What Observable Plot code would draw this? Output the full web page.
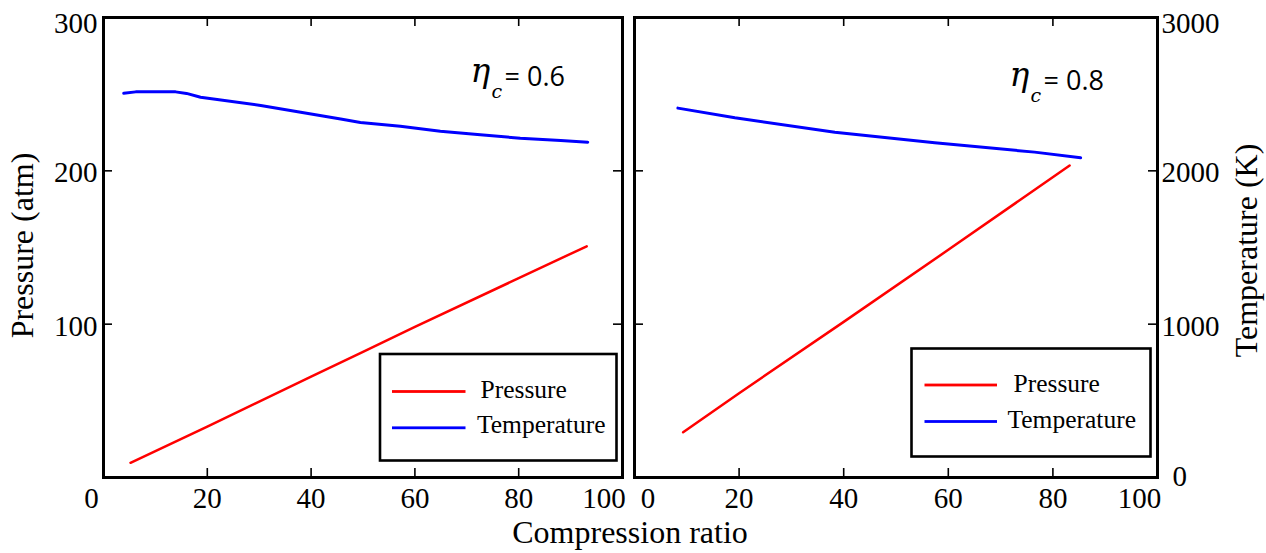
<!DOCTYPE html>
<html>
<head>
<meta charset="utf-8">
<script src="https://cdn.jsdelivr.net/npm/d3@7"></script>
<script src="https://cdn.jsdelivr.net/npm/@observablehq/plot@0.6"></script>
<style>
  html, body { margin: 0; padding: 0; background: #ffffff; }
  #wrap { position: relative; width: 1266px; height: 553px; overflow: hidden; background: #ffffff; }
  #wrap svg { position: absolute; top: 0; }
  #xtitle { position: absolute; left: 0; width: 1260px; top: 516px; text-align: center;
            font-family: "Liberation Serif", "Times New Roman", serif; font-size: 32px; line-height: 32px; color: #000; }
</style>
</head>
<body>
<div id="wrap"><div id="xtitle">Compression ratio</div></div>
<script>
// ---------------- data ----------------
const panels = ["0.6", "0.8"];                 // compressor efficiency η_c
const seriesNames = ["Pressure", "Temperature"];
const xTickValues = [20, 40, 60, 80];
const xTickLabels = [0, 20, 40, 60, 80, 100];
const pressureTicks = [100, 200];
const pressureTickLabels = [100, 200, 300];
const temperatureTickLabels = [0, 1000, 2000, 3000];

// η_c = 0.6
const ratioP1 = [5.2, 20, 40, 50, 60, 80, 93.1];
const pressure1 = [9.6, 33.2, 65.8, 82, 98.2, 130, 150.8];           // atm
const ratioT1 = [3.9, 6.2, 13.9, 16, 18.7, 30.3, 38.0, 45.7, 49.5, 57.2, 64.9, 72.6, 80.3, 88.1, 93.3];
const temperature1 = [2506, 2515, 2515, 2505, 2480, 2426, 2382, 2338, 2315, 2291, 2258, 2235, 2213, 2198, 2187]; // K

// η_c = 0.8
const ratioP2 = [9.3, 20, 40, 60, 83.2];
const pressure2 = [29.5, 55, 101.5, 148.5, 203.5];                   // atm
const ratioT2 = [8.3, 19.2, 38.3, 57.4, 76.5, 85.3];
const temperature2 = [2409, 2346, 2252, 2183, 2122, 2085];           // K

const toRows = (xs, ys) => xs.map((x, i) => ({ratio: x, value: ys[i]}));

// ---------------- drawing ----------------
const serif = "'Liberation Serif', 'Times New Roman', serif";
const greek = "'DejaVu Serif', 'Liberation Serif', serif";
const sans = "'Open Sans', 'Liberation Sans', sans-serif";
const RED = "#ff0000", BLUE = "#0000ff";
const H = 553;
const TEMP_PER_ATM = 10;   // right axis (K) = 10 × left axis (atm)

function makePanel(o) {
  const fr = o.frame;                       // frame in page coordinates
  const fw = fr.x1 - fr.x0, fh = fr.y1 - fr.y0;
  const at = (px, py) => ({frameAnchor: "top-left", dx: px - fr.x0, dy: py - fr.y0});
  const label = (s, px, py, extra) =>
    Plot.text([s], {text: d => d, ...at(px, py), textAnchor: "start", lineAnchor: "bottom", fill: "black", ...extra});
  const box = (x0, x1, y0, y1, extra) =>
    Plot.frame({insetLeft: x0 - fr.x0, insetRight: fr.x1 - x1, insetTop: y0 - fr.y0, insetBottom: fr.y1 - y1, ...extra});
  const swatch = (x0, x1, yc, color) => box(x0, x1, yc - 1.4, yc + 1.4, {fill: color, stroke: "none"});
  const L = o.legend;

  const marks = [
    // inward ticks
    Plot.tickX(xTickValues, {x: d => d, insetTop: fh - 9, stroke: "black", strokeWidth: 1.6}),
    Plot.tickX(xTickValues, {x: d => d, insetBottom: fh - 9, stroke: "black", strokeWidth: 1.6}),
    Plot.tickY(pressureTicks, {y: d => d, insetRight: fw - 9, stroke: "black", strokeWidth: 1.6}),
    Plot.tickY(pressureTicks, {y: d => d, insetLeft: fw - 9, stroke: "black", strokeWidth: 1.6}),
    // data lines
    Plot.line(o.temperature, {x: "ratio", y: d => d.value / TEMP_PER_ATM, stroke: BLUE, strokeWidth: 3}),
    Plot.line(o.pressure, {x: "ratio", y: "value", stroke: RED, strokeWidth: 2.5}),
    // frame
    Plot.frame({stroke: "black", strokeWidth: 3}),
    // x tick labels
    Plot.text(xTickLabels.filter(v => v > 0 && v < 100), {x: d => d, text: d => String(d), frameAnchor: "bottom", dy: 30,
      lineAnchor: "bottom", fontSize: 29, fontFamily: serif, fill: "black"}),
    Plot.text(xTickLabels.filter(v => v === 0), {x: d => d, text: d => String(d), frameAnchor: "bottom", dy: 30, dx: o.zeroDx,
      lineAnchor: "bottom", fontSize: 29, fontFamily: serif, fill: "black"}),
    Plot.text(xTickLabels.filter(v => v === 100), {x: d => d, text: d => String(d), frameAnchor: "bottom", dy: 30, dx: o.hundredDx,
      lineAnchor: "bottom", fontSize: 29, fontFamily: serif, fill: "black"}),
    // legend
    box(L.x0, L.x1, L.y0, L.y1, {stroke: "black", strokeWidth: 2.6, fill: "white"}),
    swatch(L.sx0, L.sx1, L.ry, RED),
    swatch(L.sx0, L.sx1, L.by, BLUE),
    label(seriesNames[0], L.px, L.pb, {fontSize: 25.5, fontFamily: serif}),
    label(seriesNames[1], L.tx, L.tb, {fontSize: 25.5, fontFamily: serif}),
    // η_c annotation
    label("η", o.eta.x, o.eta.y, {fontSize: 33, fontFamily: greek, fontStyle: "italic"}),
    label("c", o.eta.x + 21, o.eta.y + 16, {fontSize: 19, fontFamily: greek, fontStyle: "italic"}),
    label("= " + o.name, o.eta.x + 34, o.eta.y + 4, {fontSize: 27, fontFamily: sans}),
    ...o.extra(fr)
  ];

  return Plot.plot({
    width: o.width, height: H,
    marginLeft: fr.x0 - o.left, marginRight: o.left + o.width - fr.x1,
    marginTop: fr.y0, marginBottom: H - fr.y1,
    x: {domain: [0, 100], axis: null},
    y: {domain: [0, 300], axis: null},
    style: {background: "transparent", overflow: "visible", fontFamily: serif, color: "black"},
    marks
  });
}

const left = makePanel({
  name: panels[0], left: 0, width: 628,
  frame: {x0: 103, x1: 622, y0: 17, y1: 477},
  pressure: toRows(ratioP1, pressure1),
  temperature: toRows(ratioT1, temperature1),
  zeroDx: -12, hundredDx: -18.5,
  legend: {x0: 379.5, x1: 616, y0: 353.5, y1: 460, sx0: 391.5, sx1: 465, ry: 391, by: 427.3, px: 480, pb: 397, tx: 476.5, tb: 432.5},
  eta: {x: 470, y: 81},
  extra: fr => [
    Plot.text(pressureTickLabels.filter(v => v < 300), {y: d => d, text: d => String(d), frameAnchor: "left", dx: -6, dy: 11.5,
      textAnchor: "end", lineAnchor: "bottom", fontSize: 29, fontFamily: serif, fill: "black"}),
    Plot.text(pressureTickLabels.filter(v => v === 300), {y: d => d, text: d => String(d), frameAnchor: "left", dx: -6, dy: 15,
      textAnchor: "end", lineAnchor: "bottom", fontSize: 29, fontFamily: serif, fill: "black"}),
    Plot.text(["Pressure (atm)"], {text: d => d, frameAnchor: "left", dx: -81, dy: -2, rotate: -90,
      textAnchor: "middle", lineAnchor: "middle", fontSize: 32, fontFamily: serif, fill: "black"})
  ]
});

const right = makePanel({
  name: panels[1], left: 628, width: 638,
  frame: {x0: 634, x1: 1157, y0: 17, y1: 477},
  pressure: toRows(ratioP2, pressure2),
  temperature: toRows(ratioT2, temperature2),
  zeroDx: 13.5, hundredDx: -18,
  legend: {x0: 911, x1: 1150, y0: 348, y1: 456, sx0: 924, sx1: 996.5, ry: 384.5, by: 421, px: 1013, pb: 391, tx: 1007, tb: 427},
  eta: {x: 1009, y: 85},
  extra: fr => [
    Plot.text(temperatureTickLabels.filter(v => v > 0 && v < 3000), {y: d => d / TEMP_PER_ATM, text: d => String(d), frameAnchor: "right",
      dx: 4, dy: 11.5, textAnchor: "start", lineAnchor: "bottom", fontSize: 29, fontFamily: serif, fill: "black"}),
    Plot.text(temperatureTickLabels.filter(v => v === 3000), {y: d => d / TEMP_PER_ATM, text: d => String(d), frameAnchor: "right",
      dx: 4, dy: 15, textAnchor: "start", lineAnchor: "bottom", fontSize: 29, fontFamily: serif, fill: "black"}),
    Plot.text(temperatureTickLabels.filter(v => v === 0), {y: d => d / TEMP_PER_ATM, text: d => String(d), frameAnchor: "right",
      dx: 15, dy: 8, textAnchor: "start", lineAnchor: "bottom", fontSize: 29, fontFamily: serif, fill: "black"}),
    Plot.text(["Temperature (K)"], {text: d => d, frameAnchor: "right", dx: 89, dy: 3, rotate: -90,
      textAnchor: "middle", lineAnchor: "middle", fontSize: 32, fontFamily: serif, fill: "black"})
  ]
});

left.style.left = "0px";
right.style.left = "628px";
const wrap = document.getElementById("wrap");
wrap.appendChild(left);
wrap.appendChild(right);
</script>
</body>
</html>
